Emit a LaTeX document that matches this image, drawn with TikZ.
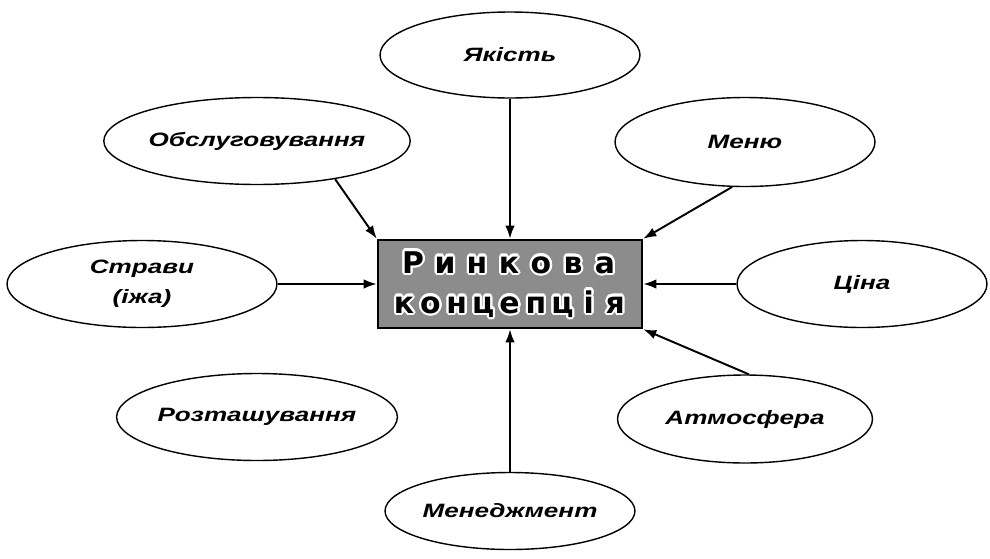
\documentclass[tikz,border=0pt]{standalone}
\usepackage{fontspec}
\usepackage[copies]{contour}
\usetikzlibrary{arrows.meta,positioning,shapes.geometric}
\newfontfamily\lblfont[FakeStretch=1.35]{Liberation Sans}
\newfontfamily\boxfont{DejaVu Sans}
\contourlength{1.3pt}
\contournumber{16}

\begin{document}
\begin{tikzpicture}[x=0.02cm,y=-0.02cm,>={Latex[length=2.6mm,width=1.9mm]},
    oval/.style={ellipse,draw,line width=0.8pt,minimum width=5.2cm,minimum height=1.74cm,
      inner sep=0pt,align=center,font=\lblfont\bfseries\itshape\fontsize{11}{17}\selectfont},
    core/.style={rectangle,draw,line width=1.5pt,fill=black!45,minimum width=5.28cm,minimum height=1.76cm},
    glyph/.style={anchor=base,inner sep=0pt,font=\boxfont\bfseries\fontsize{17}{17}\selectfont},
    feed/.style={->,line width=1.1pt}]
    \useasboundingbox (0,0) rectangle (990,558);

    % Central box
    \node[core] (concept) at (510,284) {};
    \foreach \ch [count=\i] in {Р,и,н,к,о,в,а}
      \node[glyph] (top\i) at ({413+32*(\i-1)},273) {\contour{white}{\ch}};
    \foreach \ch [count=\i] in {к,о,н,ц,е,п,ц,і,я}
      \node[glyph] (bot\i) at ({404+26.4*(\i-1)},313) {\contour{white}{\ch}};

    % Factors around it
    \node[oval,minimum height=1.72cm] (quality) at (510,55) {Якість};
    \node[oval,minimum width=5.3cm] (service) at (257,141) {Обслуговування};
    \node[oval,minimum height=1.78cm] (menu) at (745,142) {Меню};
    \node[oval,minimum width=5.4cm] (dishes) at (142,284) {Страви\\(іжа)};
    \node[oval,minimum width=5cm] (price) at (862,284) {Ціна};
    \node[oval,minimum width=5.3cm] (place) at (257,417) {Розташування};
    \node[oval,minimum width=5.1cm,minimum height=1.76cm] (mood) at (745,419) {Атмосфера};
    \node[oval,minimum width=5cm,minimum height=1.54cm] (manage) at (510,511) {Менеджмент};

    % Arrows into the box
    \draw[feed] (quality.south) -- (concept.north);
    \draw[feed] (service.-26) -- (concept.north west);
    \draw[feed] (menu.-106) -- (concept.north east);
    \draw[feed] (dishes.east) -- (concept.west);
    \draw[feed] (price.west) -- (concept.east);
    \draw[feed] (mood.85) -- (concept.south east);
    \draw[feed] (manage.north) -- (concept.south);
\end{tikzpicture}
\end{document}
